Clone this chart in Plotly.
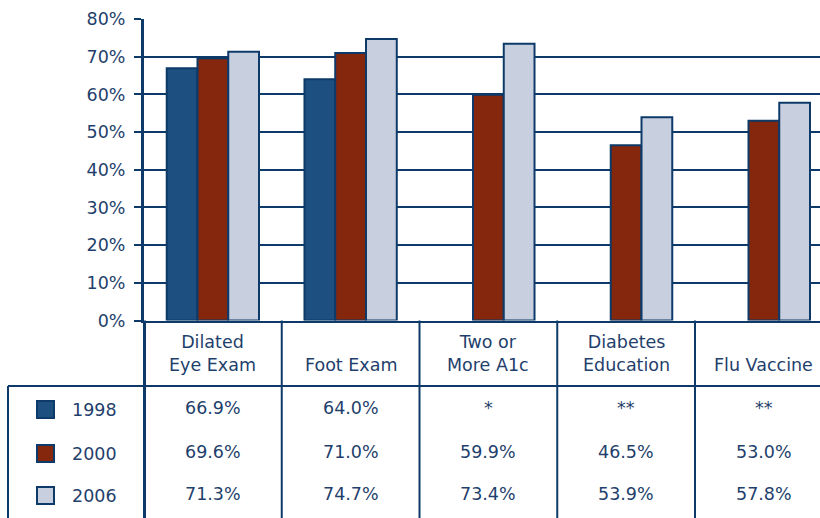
import plotly.graph_objects as go

categories = ["Dilated<br>Eye Exam", "Foot Exam", "Two or<br>More A1c", "Diabetes<br>Education", "Flu Vaccine"]
years = ["1998", "2000", "2006"]
values_1998 = [66.9, 64.0, None, None, None]
values_2000 = [69.6, 71.0, 59.9, 46.5, 53.0]
values_2006 = [71.3, 74.7, 73.4, 53.9, 57.8]
notes_1998 = [None, None, "*", "**", "**"]
y_ticks = [0, 10, 20, 30, 40, 50, 60, 70, 80]

colors = ["#1d5080", "#84270c", "#c8d0e0"]
navy = "#0d3a68"
text_col = "#1f3f6c"
FONT = "DejaVu Sans"
FS = 17.5

W, H = 820, 518
def px(x):
    return x / W
def py(y):
    return 1 - y / H

series = [values_1998, values_2000, values_2006]
fig = go.Figure()
for name, vals, col in zip(years, series, colors):
    fig.add_trace(go.Bar(x=list(range(len(categories))), y=vals, name=name,
                         marker=dict(color=col, line=dict(color=navy, width=2)),
                         showlegend=False, hoverinfo="skip"))

cat_w = 137.75
x_left = 144
y_top, y_bot = 19, 320.5

fig.update_layout(
    width=W, height=H, margin=dict(l=0, r=0, t=0, b=0, pad=0, autoexpand=False),
    paper_bgcolor="white", plot_bgcolor="white", showlegend=False,
    barmode="group", bargap=0.33, bargroupgap=0,
    xaxis=dict(domain=[px(x_left), 1], range=[-0.5, -0.5 + (W - x_left) / cat_w],
               showticklabels=False, showgrid=False, zeroline=False, ticks="",
               showline=True, linecolor=navy, linewidth=2, automargin=False),
    yaxis=dict(domain=[py(y_bot), py(y_top)], range=[0, 80], tickvals=y_ticks,
               ticktext=[f"{v}%" for v in y_ticks], ticks="outside", ticklen=7,
               tickwidth=2, tickcolor=navy, showline=True, linecolor=navy, linewidth=3,
               showgrid=True, gridcolor=navy, gridwidth=2, zeroline=False, automargin=False,
               tickfont=dict(family=FONT, size=FS, color=text_col), ticklabelstandoff=5),
    font=dict(family=FONT, size=FS, color=text_col),
)

shapes = []
# y-axis line continuation through the table
shapes.append(dict(type="line", xref="paper", yref="paper", x0=px(x_left + 0.5), x1=px(x_left + 0.5),
                   y0=0, y1=py(y_bot), line=dict(color=navy, width=3)))
# category dividers
for i in range(len(categories) - 1):
    shapes.append(dict(type="line", xref="x", yref="paper", x0=i + 0.5, x1=i + 0.5,
                       y0=0, y1=py(y_bot), line=dict(color=navy, width=2)))
# header bottom line
shapes.append(dict(type="line", xref="paper", yref="paper", x0=px(8), x1=1,
                   y0=py(386), y1=py(386), line=dict(color=navy, width=2)))
# left border of legend column
shapes.append(dict(type="line", xref="paper", yref="paper", x0=px(8), x1=px(8),
                   y0=0, y1=py(386), line=dict(color=navy, width=2)))

row_y = [408, 452, 494]
annotations = []
for yr, col, ry in zip(years, colors, row_y):
    shapes.append(dict(type="rect", xref="paper", yref="paper", x0=px(37), x1=px(54),
                       y0=py(ry + 10), y1=py(ry - 7), fillcolor=col,
                       line=dict(color=navy, width=2)))
    annotations.append(dict(xref="paper", yref="paper", x=px(70), y=py(ry + 2), text=yr,
                            showarrow=False, xanchor="left", yanchor="middle",
                            font=dict(family=FONT, size=FS, color=text_col)))

for i, cat in enumerate(categories):
    annotations.append(dict(xref="x", yref="paper", x=i, y=py(377), text=cat,
                            showarrow=False, xanchor="center", yanchor="bottom",
                            font=dict(family=FONT, size=FS, color=text_col)))
    cells = [notes_1998[i] if values_1998[i] is None else f"{values_1998[i]:.1f}%",
             f"{values_2000[i]:.1f}%", f"{values_2006[i]:.1f}%"]
    for txt, ry in zip(cells, row_y):
        annotations.append(dict(xref="x", yref="paper", x=i, y=py(ry), text=txt,
                                showarrow=False, xanchor="center", yanchor="middle",
                                font=dict(family=FONT, size=FS, color=text_col)))

fig.update_layout(shapes=shapes, annotations=annotations)
fig.write_html("out.html")
